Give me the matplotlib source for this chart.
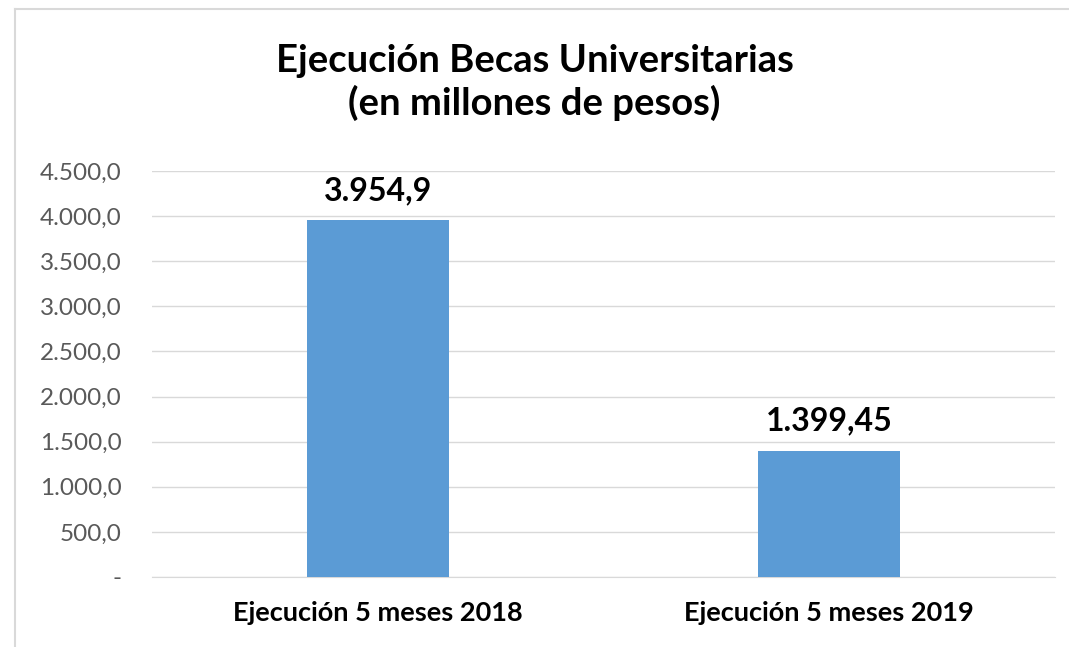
import matplotlib
matplotlib.use("Agg")
import matplotlib.pyplot as plt
from matplotlib.lines import Line2D

categories = ["Ejecución 5 meses 2018", "Ejecución 5 meses 2019"]
values = [3954.9, 1399.45]
value_labels = ["3.954,9", "1.399,45"]
yticks = [0, 500, 1000, 1500, 2000, 2500, 3000, 3500, 4000, 4500]
ytick_labels = ["-", "500,0", "1.000,0", "1.500,0", "2.000,0", "2.500,0",
                "3.000,0", "3.500,0", "4.000,0", "4.500,0"]

plt.rcParams['font.family'] = ['Lato', 'DejaVu Sans']

fig = plt.figure(figsize=(10.69, 6.47), dpi=100)
ax = fig.add_axes([0.1422, 0.1082, 0.8447, 0.6275])

x = range(len(categories))
ax.bar(x, values, width=0.315, color="#5B9BD5", zorder=3)
for xi, v, lab in zip(x, values, value_labels):
    ax.text(xi, v + 170, lab, ha="center", va="bottom",
            fontsize=23, fontweight="bold", color="black")

ax.set_xlim(-0.5, 1.5)
ax.set_ylim(0, 4500)
ax.set_yticks(yticks)
ax.set_yticklabels(ytick_labels, fontsize=17.5, color="#595959")
ax.set_xticks(list(x))
ax.set_xticklabels(categories, fontsize=19.5, fontweight="bold", color="black")
ax.tick_params(axis="both", length=0)
ax.tick_params(axis="y", pad=22)
ax.tick_params(axis="x", pad=17)
ax.grid(axis="y", color="#d9d9d9", linewidth=1, zorder=0)
for s in ["top", "right", "left"]:
    ax.spines[s].set_visible(False)
ax.spines["bottom"].set_color("#d9d9d9")

fig.text(0.5, 0.872, "Ejecución Becas Universitarias\n(en millones de pesos)",
         ha="center", va="center", fontsize=27.5, fontweight="bold",
         linespacing=1.22)

# outer chart border (left and top visible)
fig.add_artist(Line2D([15/1069, 15/1069], [0, 1 - 9/647],
                      transform=fig.transFigure, color="#d9d9d9", lw=1.5))
fig.add_artist(Line2D([15/1069, 1], [1 - 9/647, 1 - 9/647],
                      transform=fig.transFigure, color="#d9d9d9", lw=1.5))

fig.savefig("out.png", dpi=100)
